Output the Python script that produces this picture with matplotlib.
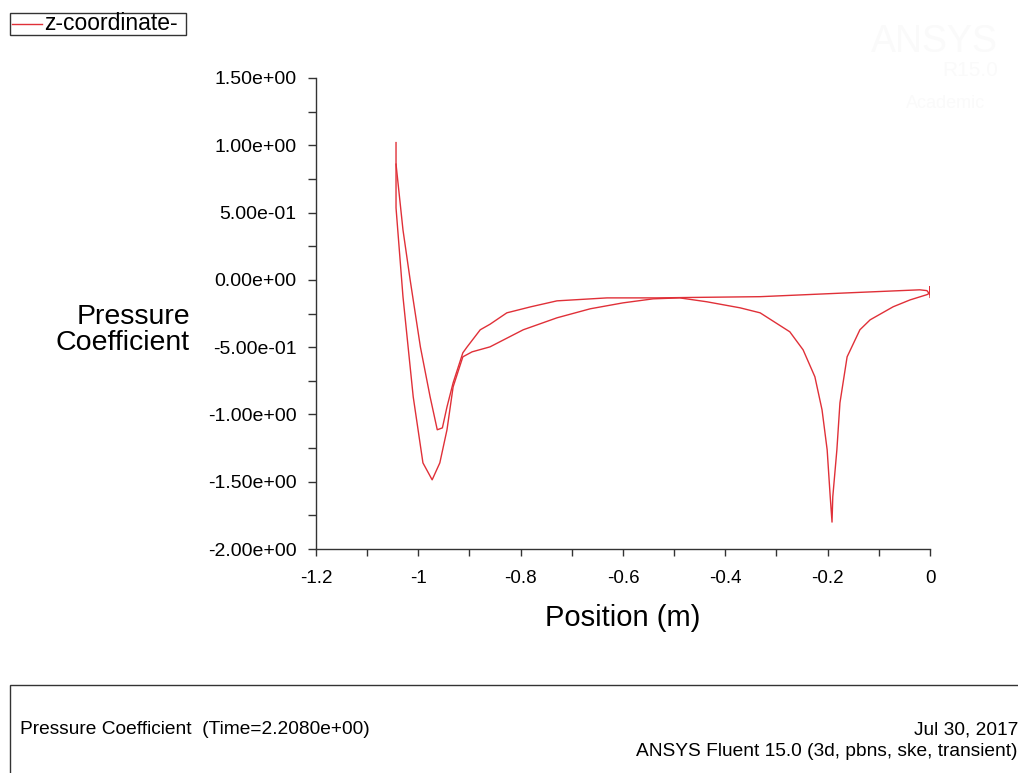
import matplotlib
matplotlib.use("Agg")
import matplotlib.pyplot as plt
from matplotlib.patches import Rectangle
from matplotlib.ticker import MultipleLocator, FormatStrFormatter

plt.rcParams["font.family"] = ["Liberation Sans", "DejaVu Sans"]

# Surface 1: deep leading-edge branch, lower-left curve, then the trailing dip
pos_a = [-1.0436, -1.0436, -1.030, -1.010, -0.991, -0.973, -0.958, -0.944, -0.932,
         -0.913, -0.895, -0.86, -0.795, -0.729, -0.664, -0.600, -0.541, -0.489, -0.436,
         -0.371, -0.332, -0.274, -0.248, -0.225, -0.211, -0.201, -0.195, -0.1915,
         -0.190, -0.182, -0.176, -0.162, -0.137, -0.117, -0.072, -0.039, -0.006, 0.0]
cp_a = [1.02, 0.535, -0.126, -0.869, -1.36, -1.486, -1.36, -1.114, -0.795,
        -0.572, -0.535, -0.498, -0.371, -0.282, -0.215, -0.171, -0.141, -0.134, -0.163,
        -0.208, -0.245, -0.386, -0.52, -0.72, -0.966, -1.263, -1.612, -1.80,
        -1.612, -1.263, -0.914, -0.572, -0.371, -0.297, -0.20, -0.149, -0.11, -0.097]

# Surface 2: shallow leading-edge branch, upper curve, flat run to trailing edge
pos_b = [-1.0436, -1.030, -1.016, -0.996, -0.977, -0.963, -0.953, -0.944, -0.932,
         -0.913, -0.905, -0.879, -0.86, -0.827, -0.78, -0.729, -0.631, -0.534, -0.45,
         -0.332, -0.163, -0.020, -0.006, 0.0, 0.0, 0.0]
cp_b = [0.86, 0.371, 0.0, -0.498, -0.869, -1.114, -1.10, -0.944, -0.765,
        -0.542, -0.50, -0.371, -0.33, -0.245, -0.20, -0.156, -0.134, -0.134, -0.13,
        -0.125, -0.097, -0.074, -0.08, -0.11, -0.05, -0.13]

W, H = 1018, 773
fig = plt.figure(figsize=(W / 100, H / 100), dpi=100)
ax = fig.add_axes([316 / W, 1 - 549 / H, (930 - 316) / W, (549 - 78) / H])

red = "#e03038"
ax.plot(pos_a, cp_a, color=red, lw=1.0)
ax.plot(pos_b, cp_b, color=red, lw=1.0)

ax.set_xlim(-1.2, 0)
ax.set_ylim(-2.0, 1.5)
for s in ("top", "right"):
    ax.spines[s].set_visible(False)
for s in ("left", "bottom"):
    ax.spines[s].set_color("#333333")
    ax.spines[s].set_linewidth(1.0)

ax.xaxis.set_major_locator(MultipleLocator(0.2))
ax.xaxis.set_minor_locator(MultipleLocator(0.1))
ax.yaxis.set_major_locator(MultipleLocator(0.5))
ax.yaxis.set_minor_locator(MultipleLocator(0.25))
ax.yaxis.set_major_formatter(FormatStrFormatter("%.2e"))
ax.xaxis.set_major_formatter(plt.FuncFormatter(lambda v, p: f"{v:g}"))
ax.tick_params(which="both", direction="out", color="#333333", width=1.0)
ax.tick_params(axis="y", which="both", length=6, pad=8, labelsize=14)
ax.tick_params(axis="x", which="both", length=5, pad=10, labelsize=13.5)

ax.set_xlabel("Position (m)", fontsize=21, labelpad=12)
fig.text(190 / W, 1 - 330 / H, "Pressure\nCoefficient", fontsize=20.5, ha="right",
         va="center", multialignment="right", linespacing=0.95)

# legend box
fig.patches.append(Rectangle((10 / W, 1 - 35 / H), 176 / W, 22 / H, transform=fig.transFigure,
                             fill=False, edgecolor="#333333", lw=1.0))
fig.lines.append(plt.Line2D([12 / W, 42 / W], [1 - 24 / H, 1 - 24 / H],
                            transform=fig.transFigure, color=red, lw=1.0))
fig.text(44 / W, 1 - 24 / H, "z-coordinate-", fontsize=16.5, va="center")

# very faint watermark
wm = "#fafafa"
fig.text(998 / W, 1 - 42 / H, "ANSYS", fontsize=27, color=wm, ha="right", va="center")
fig.text(998 / W, 1 - 70 / H, "R15.0", fontsize=15, color=wm, ha="right", va="center")
fig.text(985 / W, 1 - 104 / H, "Academic", fontsize=13, color=wm, ha="right", va="center")

# footer box
fig.patches.append(Rectangle((10 / W, -0.05), 1.1, 0.05 + (773 - 685) / H, transform=fig.transFigure,
                             fill=False, edgecolor="#333333", lw=1.0))
fig.text(20 / W, 1 - 730 / H, "Pressure Coefficient  (Time=2.2080e+00)", fontsize=13.8, va="center")
fig.text(1018 / W, 1 - 730 / H, "Jul 30, 2017", fontsize=13.8, va="center", ha="right")
fig.text(1018 / W, 1 - 751 / H, "ANSYS Fluent 15.0 (3d, pbns, ske, transient)", fontsize=13.8,
         va="center", ha="right")

fig.savefig("out.png", dpi=100)
